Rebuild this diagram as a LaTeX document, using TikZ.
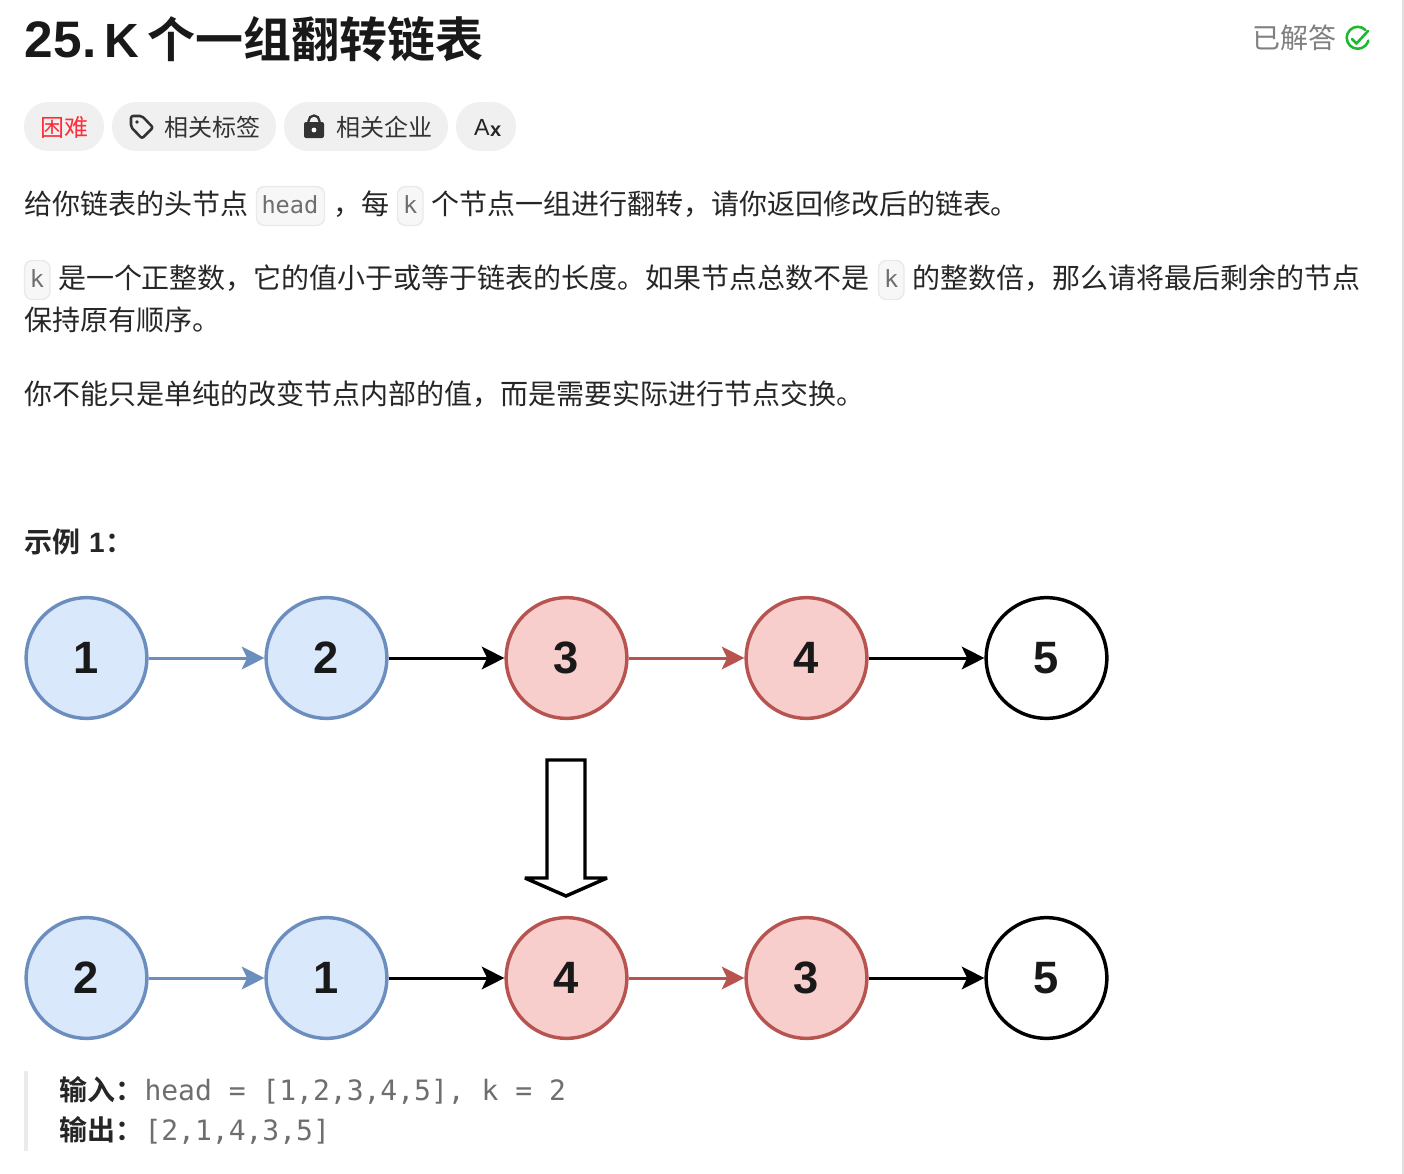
\documentclass[tikz,border=0pt]{standalone}
\usepackage{fontspec}
\setmainfont{Liberation Sans}
\newfontfamily\cjk{Noto Sans CJK SC}
\newfontfamily\cjkb{Noto Sans CJK SC Bold}
\newfontfamily\lat{Liberation Sans}
\newfontfamily\code{DejaVu Sans Mono}
\usetikzlibrary{arrows.meta}
\tikzset{
  txt/.style={anchor=base west,inner sep=0pt,outer sep=0pt,text=ink},
  body/.style={txt,font=\cjk\fontsize{21}{25}\selectfont},
  pilltxt/.style={txt,font=\cjk\fontsize{18}{22}\selectfont,text=pillink},
  codet/.style={txt,font=\code\fontsize{17.7}{22}\selectfont,text=codeink},
  mono/.style={txt,font=\code\fontsize{21}{25}\selectfont,text=codeink},
  strong/.style={txt,font=\cjkb\fontsize{21}{25}\selectfont},
  pill/.style={fill=pillbg,draw=none,rounded corners=18pt},
  chip/.style={fill=chipbg,draw=chipline,line width=1.1pt,rounded corners=6pt},
  listnode/.style={circle,minimum size=90.5pt,inner sep=0pt,line width=2.6pt,font=\lat\bfseries\fontsize{34}{40}\selectfont,text=black!90},
  bluen/.style={listnode,draw=blueline,fill=bluefill},
  redn/.style={listnode,draw=redline,fill=redfill},
  plainn/.style={listnode,draw=black,fill=white},
  link/.style={line width=2.25pt,-{Stealth[length=17pt,width=17pt,inset=4pt]}},
}
\definecolor{ink}{HTML}{262626}
\definecolor{pillink}{HTML}{333333}
\definecolor{codeink}{HTML}{6E6E6E}
\definecolor{pillbg}{HTML}{F0F0F0}
\definecolor{chipbg}{HTML}{F7F7F7}
\definecolor{chipline}{HTML}{EAEAEA}
\definecolor{bluefill}{HTML}{DAE8FC}
\definecolor{blueline}{HTML}{6C8EBF}
\definecolor{redfill}{HTML}{F8CECC}
\definecolor{redline}{HTML}{B85450}
\definecolor{hardred}{HTML}{FF2D3A}
\definecolor{okgreen}{HTML}{1CB82F}
\begin{document}
\begin{tikzpicture}[x=0.75pt,y=-0.75pt]
\useasboundingbox (0,0) rectangle (1404,1174);
\fill[white] (0,0) rectangle (1404,1174);
\fill[gray!25] (1402,0) rectangle (1404,1174);
% title
\node[txt,font=\lat\bfseries\fontsize{38.5}{42}\selectfont,text=black!90] (ttl) at (25,57) {25.};
\node[txt,font=\lat\bfseries\fontsize{36}{40}\selectfont,text=black!90] (ttk) at (104,57) {K};
\node[txt,font=\cjkb\fontsize{36}{40}\selectfont,text=black!90] (ttc) at (147,57) {个一组翻转链表};
% solved
\node[txt,font=\cjk\fontsize{21}{25}\selectfont,text=black!50] (solved) at (1252,48) {已解答};
\draw[okgreen,line width=1.9pt,line cap=round] (1365.5,30) arc[start angle=-45,end angle=-345,radius=11];
\draw[okgreen,line width=1.9pt,line cap=round,line join=round] (1352,39) -- (1356.5,43.5) -- (1368,31);
% pills
\fill[pill] (24,102) rectangle (104,151);
\fill[pill] (112,102) rectangle (276,151);
\fill[pill] (284,102) rectangle (448,151);
\fill[pill] (456,102) rectangle (516,151);
\node[pilltxt,text=hardred] (p1) at (40.5,136) {困难};
\draw[pillink,line width=1.9pt,line join=round,rounded corners=1.5pt] (131,116) -- (142,116) -- (153,127.5) -- (142,138.5) -- (131,127) -- cycle;
\fill[pillink] (137,122) circle[radius=1.9];
\node[pilltxt] (p2) at (164,136) {相关标签};
\fill[pillink,rounded corners=1.5pt] (304,122) rectangle (324,138);
\draw[pillink,line width=1.7pt] (308.5,123) -- (308.5,121) arc[start angle=180,end angle=360,radius=5.5] -- (319.5,123);
\fill[white] (314,130) circle[radius=2.4];
\node[pilltxt] (p3) at (336,136) {相关企业};
\node[txt,font=\lat\fontsize{17.5}{22}\selectfont,text=black!85] (p4a) at (474,135) {A};
\node[txt,font=\lat\bfseries\fontsize{15}{22}\selectfont,text=black!85] (p4b) at (490,136) {x};
% paragraph 1
\node[body] (a1) at (25,214.5) {给你链表的头节点};
\draw[chip] (256.5,186.5) rectangle (324.5,225.5);
\node[codet] (a2) at (261.5,213) {head};
\node[body] (a3) at (333,214.5) {，};
\node[body] (a4) at (361,214.5) {每};
\draw[chip] (397.5,186.5) rectangle (423,225.5);
\node[codet] (a5) at (403,213) {k};
\node[body] (a6) at (431,214.5) {个节点一组进行翻转，请你返回修改后的链表。};
% paragraph 2
\draw[chip] (24.5,260.5) rectangle (50,299.5);
\node[codet] (b1) at (30,287) {k};
\node[body] (b2) at (58,288.5) {是一个正整数，它的值小于或等于链表的长度。如果节点总数不是};
\draw[chip] (878.5,260.5) rectangle (904,299.5);
\node[codet] (b3) at (884,287) {k};
\node[body] (b4) at (912,288.5) {的整数倍，那么请将最后剩余的节点};
\node[body] (b5) at (25,330.5) {保持原有顺序。};
\node[body] (c1) at (25,404.5) {你不能只是单纯的改变节点内部的值，而是需要实际进行节点交换。};
% example
\node[strong] (e1) at (25,552) {示例};
\node[txt,font=\lat\bfseries\fontsize{21}{25}\selectfont] (e2) at (89,552) {1};
\node[strong] (e3) at (105,552) {：};
% top row
\node[bluen] (n1) at (86.5,658) {1};
\node[bluen] (n2) at (326.5,658) {2};
\node[redn] (n3) at (566.5,658) {3};
\node[redn] (n4) at (806.5,658) {4};
\node[plainn] (n5) at (1046.5,658) {5};
\draw[link,blueline] (n1) -- (n2);
\draw[link,black] (n2) -- (n3);
\draw[link,redline] (n3) -- (n4);
\draw[link,black] (n4) -- (n5);
% block arrow
\draw[line width=2.6pt,line join=miter,miter limit=4,fill=white] (547,760) -- (585,760) -- (585,878) -- (607,878) -- (566,896) -- (525,878) -- (547,878) -- cycle;
% bottom row
\node[bluen] (m1) at (86.5,978) {2};
\node[bluen] (m2) at (326.5,978) {1};
\node[redn] (m3) at (566.5,978) {4};
\node[redn] (m4) at (806.5,978) {3};
\node[plainn] (m5) at (1046.5,978) {5};
\draw[link,blueline] (m1) -- (m2);
\draw[link,black] (m2) -- (m3);
\draw[link,redline] (m3) -- (m4);
\draw[link,black] (m4) -- (m5);
% quote block
\fill[chipline] (24,1071) rectangle (28,1151);
\node[strong] (i1) at (60,1100) {输入：};
\node[mono] (i2) at (144.5,1100) {head = [1,2,3,4,5], k = 2};
\node[strong] (o1) at (60,1140) {输出：};
\node[mono] (o2) at (144.5,1140) {[2,1,4,3,5]};
\end{tikzpicture}
\end{document}
